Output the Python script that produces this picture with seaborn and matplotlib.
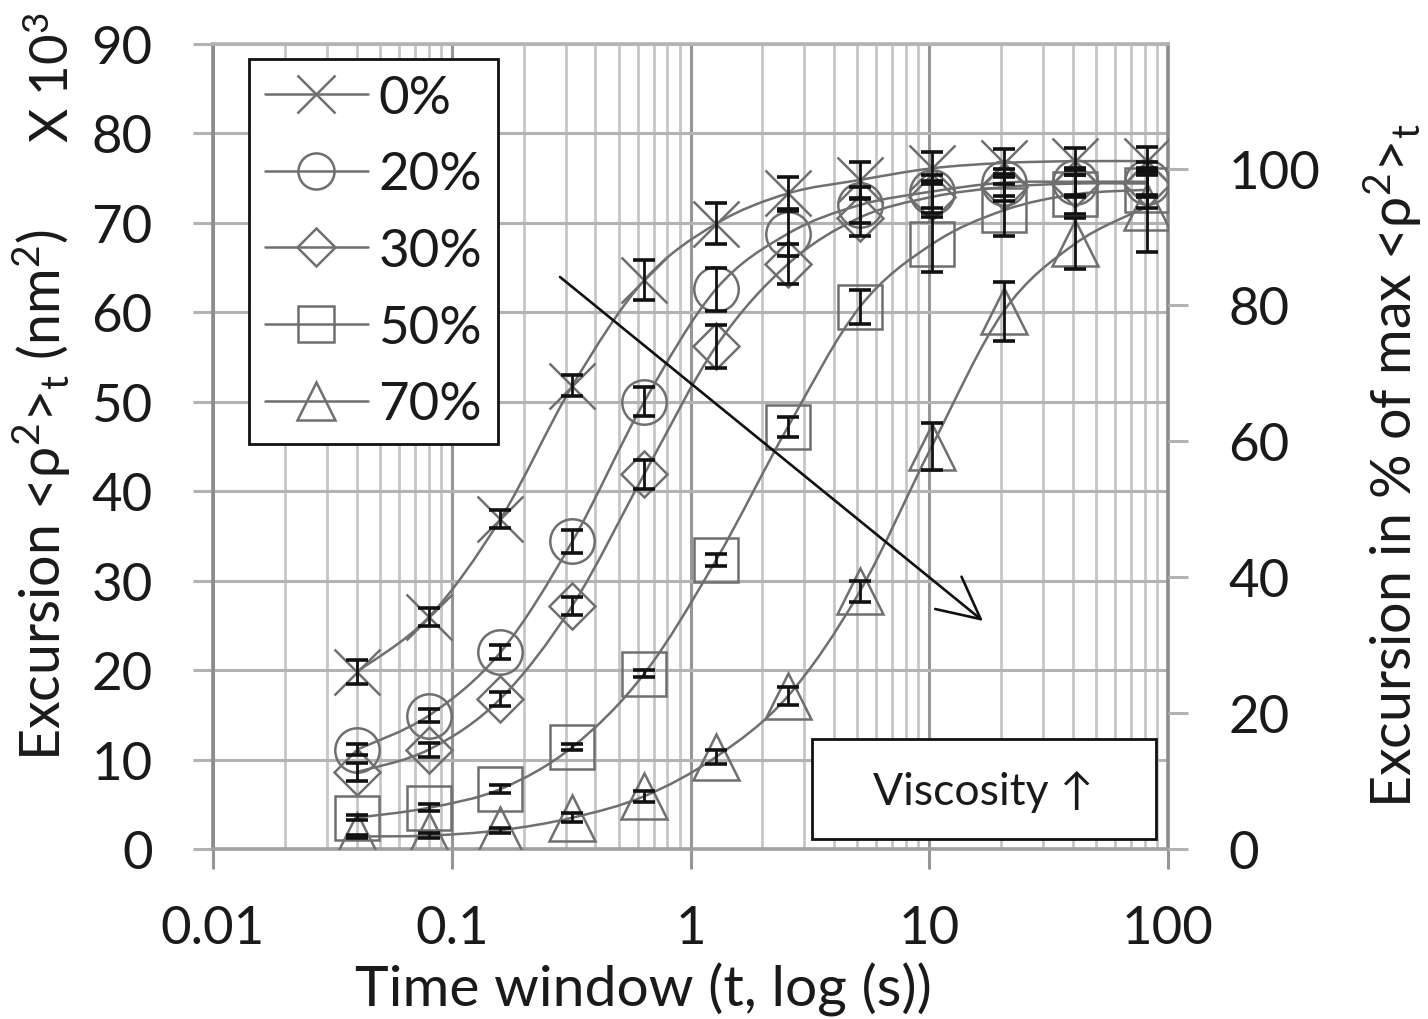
import numpy as np
import pandas as pd
import matplotlib
matplotlib.use("Agg")
import matplotlib.pyplot as plt
from matplotlib.path import Path
from matplotlib.patches import PathPatch, Rectangle
from matplotlib.lines import Line2D
from matplotlib.ticker import LogLocator, NullFormatter, FixedLocator, FuncFormatter
import seaborn as sns

# ---- data (excursion in units of 10^3 nm^2) ----
time_window = [0.04, 0.08, 0.16, 0.32, 0.64, 1.28, 2.56, 5.12, 10.24, 20.48, 40.96, 81.92]
labels = ["0%", "20%", "30%", "50%", "70%"]

exc_0 = [19.8, 25.9, 36.9, 51.8, 63.6, 69.9, 73.3, 74.8, 76.1, 76.7, 76.9, 76.9]
err_0 = [1.3, 1.0, 1.0, 1.2, 2.2, 2.3, 1.8, 2.0, 1.8, 1.6, 1.5, 1.6]
exc_20 = [11.1, 14.9, 22.0, 34.4, 50.0, 62.6, 68.8, 72.0, 73.5, 74.5, 74.6, 74.6]
err_20 = [0.6, 0.7, 0.8, 1.3, 1.6, 2.4, 2.5, 2.0, 1.8, 1.5, 1.5, 1.5]
exc_30 = [8.6, 11.1, 16.8, 27.2, 41.9, 56.2, 65.4, 70.6, 72.9, 74.0, 74.4, 74.4]
err_30 = [1.0, 0.8, 0.8, 1.0, 1.6, 2.4, 2.2, 2.1, 1.8, 1.5, 1.5, 1.5]
exc_50 = [3.5, 4.6, 6.7, 11.4, 19.6, 32.3, 47.2, 60.6, 67.6, 71.4, 73.2, 73.7]
err_50 = [0.3, 0.4, 0.4, 0.3, 0.4, 0.7, 1.1, 1.9, 3.1, 2.9, 2.2, 2.0]
exc_70 = [1.4, 1.5, 2.1, 3.5, 5.9, 10.3, 17.1, 28.8, 45.0, 60.1, 67.7, 71.8]
err_70 = [0.2, 0.3, 0.3, 0.5, 0.6, 0.8, 1.0, 1.2, 2.6, 3.3, 2.8, 5.0]

# value that corresponds to 100 % on the right-hand axis
max_excursion = 76.0

left_ticks = [0, 10, 20, 30, 40, 50, 60, 70, 80, 90]
right_ticks = [0, 20, 40, 60, 80, 100]
x_ticks = [0.01, 0.1, 1, 10, 100]
x_tick_labels = ["0.01", "0.1", "1", "10", "100"]

series = [exc_0, exc_20, exc_30, exc_50, exc_70]
errors = [err_0, err_20, err_30, err_50, err_70]
markers = ["x", "o", "D", "s", "^"]
marker_sizes = [33, 32, 23.5, 31.5, 33]
legend_sizes = [27, 26, 19, 26, 27]

# ---- style ----
sns.set_style("white")
FONT = ["Lato", "DejaVu Sans"]
plt.rcParams["font.family"] = FONT
plt.rcParams["axes.unicode_minus"] = False
plt.rcParams["mathtext.fontset"] = "custom"
plt.rcParams["mathtext.rm"] = "Lato"
plt.rcParams["mathtext.it"] = "Lato:italic"
plt.rcParams["mathtext.bf"] = "Lato:bold"
plt.rcParams["mathtext.sf"] = "Lato"

SERIES_GRAY = "#6f6f6f"
GRID_GRAY = "#b3b3b3"
MINOR_GRAY = "#c6c6c6"
MAJOR_GRAY = "#969696"
SPINE_GRAY = "#8c8c8c"
TEXT = "#1a1a1a"
FS = 38
TITLE_FS = 40

fig = plt.figure(figsize=(14.28, 10.2), dpi=100)
ax = fig.add_axes([213 / 1428, 1 - 850 / 1020, (1168 - 213) / 1428, (850 - 45) / 1020])

ax.set_xscale("log")
ax.set_xlim(0.01, 100)
ax.set_ylim(0, 90)


def smooth_path(xs, ys):
    """Smoothed connecting line (cubic Bezier through the points, in log-x space)."""
    pts = np.column_stack([np.log10(xs), ys])
    n = len(pts)
    verts = [pts[0]]
    codes = [Path.MOVETO]
    for i in range(n - 1):
        p0 = pts[max(i - 1, 0)]
        p1 = pts[i]
        p2 = pts[i + 1]
        p3 = pts[min(i + 2, n - 1)]
        c1 = p1 + (p2 - p0) / 6.0
        c2 = p2 - (p3 - p1) / 6.0
        verts += [c1, c2, p2]
        codes += [Path.CURVE4] * 3
    verts = np.array(verts)
    verts[:, 0] = 10 ** verts[:, 0]
    return Path(verts, codes)


# smoothed lines
for ys in series:
    ax.add_patch(PathPatch(smooth_path(np.array(time_window), np.array(ys)),
                           fill=False, edgecolor=SERIES_GRAY, lw=1.8,
                           transform=ax.transData, zorder=3))

# markers via seaborn
for lab, ys, m, ms in zip(labels, series, markers, marker_sizes):
    df = pd.DataFrame({"time": time_window, "excursion": ys})
    face = SERIES_GRAY if m == "x" else "none"
    sns.lineplot(data=df, x="time", y="excursion", ax=ax, linestyle="",
                 marker=m, markersize=ms, color=SERIES_GRAY,
                 markerfacecolor=face, markeredgecolor=SERIES_GRAY,
                 markeredgewidth=1.8, zorder=4, legend=False)

# error bars
for ys, es in zip(series, errors):
    ax.errorbar(time_window, ys, yerr=es, fmt="none", ecolor="#111111",
                elinewidth=2.0, capsize=8, capthick=2.6, zorder=5)

# ---- grid / spines / ticks ----
ax.set_axisbelow(True)
ax.yaxis.set_major_locator(FixedLocator(left_ticks))
ax.xaxis.set_major_locator(FixedLocator(x_ticks))
ax.xaxis.set_major_formatter(FuncFormatter(
    lambda v, p: x_tick_labels[x_ticks.index(v)] if v in x_ticks else ""))
ax.xaxis.set_minor_locator(LogLocator(base=10, subs=np.arange(2, 10)))
ax.xaxis.set_minor_formatter(NullFormatter())

ax.grid(True, axis="y", which="major", color=GRID_GRAY, lw=2.2)
ax.grid(True, axis="x", which="major", color=MAJOR_GRAY, lw=2.2)
ax.grid(True, axis="x", which="minor", color=MINOR_GRAY, lw=2.0)

for side in ["left", "right", "top", "bottom"]:
    ax.spines[side].set_color(SPINE_GRAY)
    ax.spines[side].set_linewidth(2.6)
ax.spines["top"].set_color(GRID_GRAY)
ax.spines["bottom"].set_color("#a0a0a0")

ax.tick_params(axis="y", which="major", direction="out", length=14.5, width=2.2,
               color=GRID_GRAY, pad=29, labelsize=FS, labelcolor=TEXT, left=True)
ax.tick_params(axis="x", which="major", direction="out", length=14.5, width=2.2,
               color=MAJOR_GRAY, pad=26, labelsize=FS, labelcolor=TEXT, bottom=True)
ax.tick_params(axis="x", which="minor", length=0)

# right-hand axis: percent of maximum excursion
ax2 = ax.twinx()
ax2.set_ylim(0, 90 / max_excursion * 100)
ax2.yaxis.set_major_locator(FixedLocator(right_ticks))
ax2.tick_params(axis="y", direction="out", length=14.5, width=2.2, color=GRID_GRAY,
                pad=29, labelsize=FS, labelcolor=TEXT, right=True)
for side in ["left", "right", "top", "bottom"]:
    ax2.spines[side].set_visible(False)
ax2.grid(False)

# ---- legend ----
handles = [Line2D([], [], color=SERIES_GRAY, lw=1.8, marker=m, markersize=s,
                  markerfacecolor="none" if m != "x" else SERIES_GRAY,
                  markeredgecolor=SERIES_GRAY, markeredgewidth=1.8)
           for m, s in zip(markers, legend_sizes)]
leg = ax.legend(handles, labels, loc="upper left",
                bbox_to_anchor=((249 - 213) / 955, (850 - 60) / 805),
                fontsize=FS, frameon=True, fancybox=False, framealpha=1,
                edgecolor="#111111", handlelength=1.95, handletextpad=0.2,
                borderpad=0.3, labelspacing=0.56, borderaxespad=0)
leg.get_frame().set_linewidth(2.0)
for t in leg.get_texts():
    t.set_color(TEXT)
leg.set_zorder(10)

# ---- annotations ----
ax.annotate("", xy=((983 - 213) / 955, (850 - 622) / 805),
            xytext=((560 - 213) / 955, (850 - 278) / 805),
            xycoords="axes fraction", textcoords="axes fraction",
            arrowprops=dict(arrowstyle="->, head_length=1.5, head_width=0.75",
                            color="#111111", lw=1.9, mutation_scale=20,
                            shrinkA=0, shrinkB=0),
            zorder=6)

ax.add_patch(Rectangle(((812 - 213) / 955, (850 - 840) / 805), (1156 - 812) / 955,
                       (840 - 740) / 805, transform=ax.transAxes, facecolor="white",
                       edgecolor="#111111", lw=2.0, zorder=8))
ax.text((983 - 213) / 955, (850 - 792) / 805, "Viscosity ↑", transform=ax.transAxes,
        ha="center", va="center", fontsize=32, color=TEXT, zorder=9, family=FONT)

# ---- axis titles ----
fig.text(42 / 1428, 1 - 495 / 1020, r"Excursion <ρ$^2$>$_\mathregular{t}$ (nm$^2$)",
         rotation=90, ha="center", va="center", fontsize=TITLE_FS, color=TEXT)
fig.text(53 / 1428, 1 - 78 / 1020, r"X 10$^3$", rotation=90,
         ha="center", va="center", fontsize=FS, color=TEXT)
fig.text(1393 / 1428, 1 - 466 / 1020, r"Excursion in % of max <ρ$^2$>$_\mathregular{t}$",
         rotation=90, ha="center", va="center", fontsize=TITLE_FS, color=TEXT)
fig.text(643 / 1428, 1 - 990 / 1020, "Time window (t, log (s))",
         ha="center", va="center", fontsize=41, color=TEXT)

ax.set_xlabel("")
ax.set_ylabel("")
ax2.set_ylabel("")

fig.savefig("out.png", dpi=100)
